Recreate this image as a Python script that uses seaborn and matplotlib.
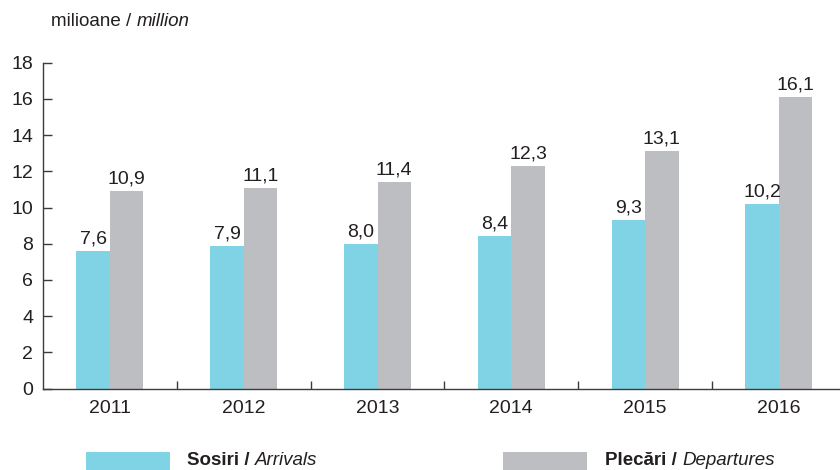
import matplotlib
matplotlib.use("Agg")
import matplotlib.pyplot as plt
from matplotlib.patches import Rectangle
import pandas as pd
import seaborn as sns

# ── Data ──────────────────────────────────────────────────────────────────────
YEARS      = ["2011", "2012", "2013", "2014", "2015", "2016"]
ARRIVALS   = [7.6, 7.9, 8.0, 8.4, 9.3, 10.2]
DEPARTURES = [10.9, 11.1, 11.4, 12.3, 13.1, 16.1]
SERIES     = ["Sosiri", "Plecări"]
Y_TICKS    = [0, 2, 4, 6, 8, 10, 12, 14, 16, 18]

UNIT_LABEL    = ("milioane / ", "million")
LEGEND_LABELS = [("Sosiri / ", "Arrivals"), ("Plecări / ", "Departures")]

# ── Style ─────────────────────────────────────────────────────────────────────
CYAN  = "#80d3e5"
GREY  = "#bdbec2"
INK   = "#231f20"
SPINE = "#3c3c3c"

sns.set_theme(style="white")
plt.rcParams["font.family"] = ["Liberation Sans", "DejaVu Sans"]
plt.rcParams["text.color"] = INK

W, H = 840, 470
fig = plt.figure(figsize=(W / 100, H / 100), dpi=100)

# axes box in pixels: left spine x=43, y=0 at 388.5, y=18 at 62.7
left, right = 43, 840
y0_px, y18_px = 388.5, 62.7
ax = fig.add_axes([left / W, (H - y0_px) / H,
                   (right - left) / W, (y0_px - y18_px) / H])

df = pd.DataFrame({
    "year":  YEARS * 2,
    "value": ARRIVALS + DEPARTURES,
    "serie": [SERIES[0]] * len(YEARS) + [SERIES[1]] * len(YEARS),
})

sns.barplot(
    data       = df,
    x          = "year",
    y          = "value",
    hue        = "serie",
    palette    = [CYAN, GREY],
    width      = 0.5,
    gap        = 0,
    saturation = 1,
    linewidth  = 0,
    legend     = False,
    ax         = ax,
)

for cont in ax.containers:
    vals = [b.get_height() for b in cont]
    ax.bar_label(cont, labels=[f"{v:.1f}".replace(".", ",") for v in vals],
                 padding=2.5, fontsize=14, color=INK)

# ── Axes ──────────────────────────────────────────────────────────────────────
group_px = (779 - 110) / 5
ax.set_xlim(-0.5, -0.5 + (right - left) / group_px)
ax.set_ylim(0, 18)
ax.set_yticks(Y_TICKS)
ax.set_yticklabels([str(t) for t in Y_TICKS])
ax.set_xticks([i + 0.5 for i in range(len(YEARS) - 1)], minor=True)
ax.set_xlabel("")
ax.set_ylabel("")

for side in ["top", "right"]:
    ax.spines[side].set_visible(False)
for side in ["left", "bottom"]:
    ax.spines[side].set_color(SPINE)
    ax.spines[side].set_linewidth(1.0)

ax.tick_params(axis="y", which="major", direction="in", length=6.5,
               width=1, color=SPINE, labelsize=14, labelcolor=INK, pad=7,
               left=True)
ax.tick_params(axis="x", which="major", length=0, labelsize=14,
               labelcolor=INK, pad=8)
ax.tick_params(axis="x", which="minor", direction="in", length=5.5,
               width=1, color=SPINE, bottom=True)

# ── Mixed-style texts ─────────────────────────────────────────────────────────
renderer = fig.canvas.get_renderer()


def two_part_text(x_px, y_px, first, second, size, first_weight="normal"):
    t1 = fig.text(x_px / W, 1 - y_px / H, first, fontsize=size,
                  fontweight=first_weight, va="center", ha="left")
    bb = t1.get_window_extent(renderer=renderer)
    fig.text(bb.x1 / W, 1 - y_px / H, second, fontsize=size,
             fontstyle="italic", va="center", ha="left")


two_part_text(50.7, 21.7, UNIT_LABEL[0], UNIT_LABEL[1], 13.5)

# legend swatches + labels
swatch_x   = [86, 503]
text_x     = [187, 605]
swatch_w   = 84
swatch_top = 452
for sx, tx, col, (bold, ital) in zip(swatch_x, text_x, [CYAN, GREY], LEGEND_LABELS):
    fig.patches.append(Rectangle((sx / W, 0), swatch_w / W, (H - swatch_top) / H,
                                 transform=fig.transFigure, facecolor=col,
                                 edgecolor="none"))
    two_part_text(tx, 460.5, bold, ital, 13.5, first_weight="bold")

fig.savefig("out.png", dpi=100)
plt.close(fig)
